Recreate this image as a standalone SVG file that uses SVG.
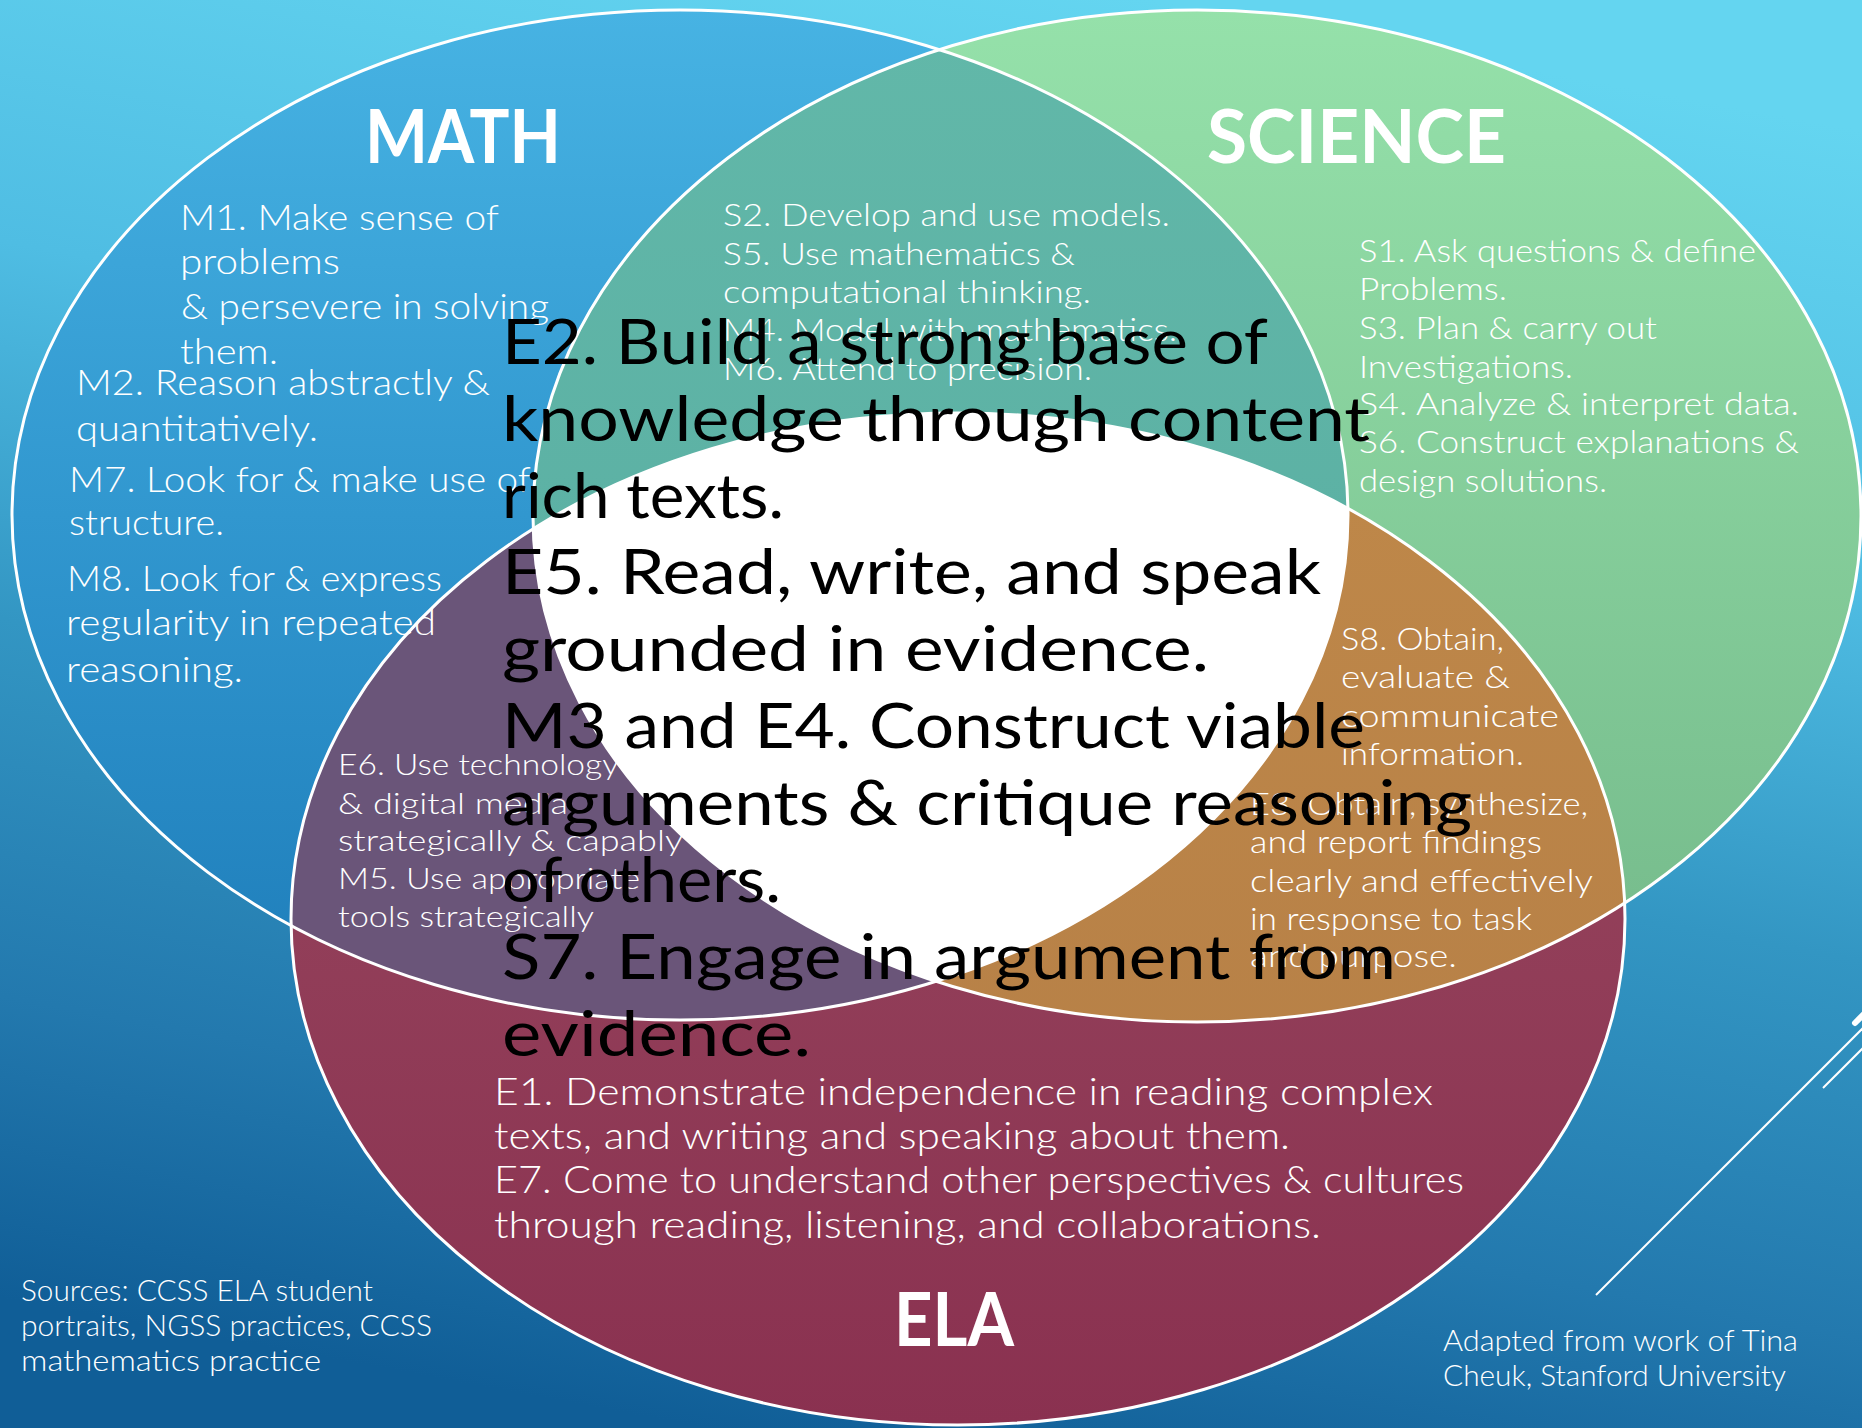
<svg xmlns="http://www.w3.org/2000/svg" width="1862" height="1428" viewBox="0 0 1862 1428">
  <defs>
    <linearGradient id="bgGrad" x1="0.62" y1="0" x2="0.38" y2="1">
      <stop offset="0" stop-color="#64d5f0"/>
      <stop offset="0.3" stop-color="#4fbde3"/>
      <stop offset="0.55" stop-color="#3396c3"/>
      <stop offset="0.8" stop-color="#2379ae"/>
      <stop offset="1" stop-color="#105e97"/>
    </linearGradient>
    <linearGradient id="mathGrad" x1="0" y1="0" x2="0" y2="1">
      <stop offset="0" stop-color="#47b3e3"/>
      <stop offset="0.5" stop-color="#3197cf"/>
      <stop offset="1" stop-color="#1e7dba"/>
    </linearGradient>
    <linearGradient id="sciGrad" x1="0" y1="0" x2="0" y2="1">
      <stop offset="0" stop-color="#95e1aa"/>
      <stop offset="1" stop-color="#74b98a"/>
    </linearGradient>
    <linearGradient id="elaGrad" x1="0" y1="0" x2="0" y2="1">
      <stop offset="0" stop-color="#9a4c62"/>
      <stop offset="1" stop-color="#8a3150"/>
    </linearGradient>
    <linearGradient id="tealGrad" x1="0" y1="0" x2="0" y2="1">
      <stop offset="0" stop-color="#62b8a9"/>
      <stop offset="1" stop-color="#57aba0"/>
    </linearGradient>
    <linearGradient id="orangeGrad" x1="0" y1="0" x2="0" y2="1">
      <stop offset="0" stop-color="#bf8849"/>
      <stop offset="1" stop-color="#b37d46"/>
    </linearGradient>
    <clipPath id="clipMath"><ellipse cx="680" cy="515" rx="668" ry="505"/></clipPath>
    <clipPath id="clipSci"><ellipse cx="1197" cy="516" rx="664" ry="506"/></clipPath>
    <style>
      .t { font-family: Lato, "Liberation Sans", "DejaVu Sans", sans-serif; font-weight: 300; fill: #ffffff; }
      .title { font-weight: 700; font-size: 75px; }
      .f36 { font-size: 36px; }
      .f37 { font-size: 37px; }
      .f31 { font-size: 31px; }
      .f30 { font-size: 30px; }
      .f28 { font-size: 28.5px; }
      .core { font-family: Lato, "Liberation Sans", "DejaVu Sans", sans-serif; font-weight: 400; font-size: 62px; fill: #000000; }
      .outline { fill: none; stroke: #ffffff; stroke-width: 3; }
      .accent { stroke: #ffffff; stroke-width: 2; }
    </style>
  </defs>

  <!-- backdrop -->
  <rect x="0" y="0" width="1862" height="1428" fill="url(#bgGrad)"/>

  <!-- set regions -->
  <g id="regions">
    <ellipse id="math-area" cx="680" cy="515" rx="668" ry="505" fill="url(#mathGrad)"/>
    <ellipse id="science-area" cx="1197" cy="516" rx="664" ry="506" fill="url(#sciGrad)"/>
    <ellipse id="ela-area" cx="958" cy="919" rx="667" ry="506" fill="url(#elaGrad)"/>
    <g clip-path="url(#clipMath)">
      <ellipse cx="1197" cy="516" rx="664" ry="506" fill="url(#tealGrad)"/>
      <ellipse cx="958" cy="919" rx="667" ry="506" fill="#6a5579"/>
    </g>
    <g clip-path="url(#clipSci)">
      <ellipse cx="958" cy="919" rx="667" ry="506" fill="url(#orangeGrad)"/>
    </g>
    <g clip-path="url(#clipMath)">
      <g clip-path="url(#clipSci)">
        <ellipse cx="958" cy="919" rx="667" ry="506" fill="#ffffff"/>
      </g>
    </g>
    <ellipse class="outline" cx="680" cy="515" rx="668" ry="505"/>
    <ellipse class="outline" cx="1197" cy="516" rx="664" ry="506"/>
    <ellipse class="outline" cx="958" cy="919" rx="667" ry="506"/>
  </g>

  <!-- MATH -->
  <g id="math">
    <text class="t title" x="365" y="163" textLength="196" lengthAdjust="spacingAndGlyphs">MATH</text>
    <g class="t f36">
      <text x="180" y="230" textLength="319" lengthAdjust="spacingAndGlyphs">M1. Make sense of</text>
      <text x="180" y="274" textLength="160" lengthAdjust="spacingAndGlyphs">problems</text>
      <text x="181" y="319" textLength="368" lengthAdjust="spacingAndGlyphs">&amp; persevere in solving</text>
      <text x="180" y="364" textLength="98" lengthAdjust="spacingAndGlyphs">them.</text>
      <text x="76" y="395" textLength="414" lengthAdjust="spacingAndGlyphs">M2. Reason abstractly &amp;</text>
      <text x="76" y="441" textLength="242" lengthAdjust="spacingAndGlyphs">quantitatively.</text>
      <text x="69" y="492" textLength="462" lengthAdjust="spacingAndGlyphs">M7. Look for &amp; make use of</text>
      <text x="69" y="535" textLength="155" lengthAdjust="spacingAndGlyphs">structure.</text>
      <text x="67" y="591" textLength="375" lengthAdjust="spacingAndGlyphs">M8. Look for &amp; express</text>
      <text x="66" y="635" textLength="370" lengthAdjust="spacingAndGlyphs">regularity in repeated</text>
      <text x="66" y="682" textLength="177" lengthAdjust="spacingAndGlyphs">reasoning.</text>
    </g>
  </g>

  <!-- SCIENCE -->
  <g id="science">
    <text class="t title" x="1207" y="163" textLength="299" lengthAdjust="spacingAndGlyphs">SCIENCE</text>
    <g class="t f31">
      <text x="1359" y="262" textLength="397" lengthAdjust="spacingAndGlyphs">S1. Ask questions &amp; define</text>
      <text x="1359" y="300" textLength="148" lengthAdjust="spacingAndGlyphs">Problems.</text>
      <text x="1359" y="339" textLength="298" lengthAdjust="spacingAndGlyphs">S3. Plan &amp; carry out</text>
      <text x="1359" y="378" textLength="214" lengthAdjust="spacingAndGlyphs">Investigations.</text>
      <text x="1359" y="415" textLength="440" lengthAdjust="spacingAndGlyphs">S4. Analyze &amp; interpret data.</text>
      <text x="1359" y="453" textLength="440" lengthAdjust="spacingAndGlyphs">S6. Construct explanations &amp;</text>
      <text x="1359" y="492" textLength="248" lengthAdjust="spacingAndGlyphs">design solutions.</text>
    </g>
  </g>

  <!-- ELA -->
  <g id="ela">
    <text class="t title" x="894" y="1346" textLength="120" lengthAdjust="spacingAndGlyphs">ELA</text>
    <g class="t f37">
      <text x="494" y="1105" textLength="939" lengthAdjust="spacingAndGlyphs">E1. Demonstrate independence in reading complex</text>
      <text x="494" y="1149" textLength="796" lengthAdjust="spacingAndGlyphs">texts, and writing and speaking about them.</text>
      <text x="494" y="1193" textLength="970" lengthAdjust="spacingAndGlyphs">E7. Come to understand other perspectives &amp; cultures</text>
      <text x="494" y="1238" textLength="827" lengthAdjust="spacingAndGlyphs">through reading, listening, and collaborations.</text>
    </g>
  </g>

  <!-- MATH and SCIENCE overlap -->
  <g id="math-science">
    <g class="t f31">
      <text x="723" y="226" textLength="447" lengthAdjust="spacingAndGlyphs">S2. Develop and use models.</text>
      <text x="723" y="265" textLength="352" lengthAdjust="spacingAndGlyphs">S5. Use mathematics &amp;</text>
      <text x="723" y="303" textLength="368" lengthAdjust="spacingAndGlyphs">computational thinking.</text>
      <text x="723" y="341" textLength="454" lengthAdjust="spacingAndGlyphs">M4. Model with mathematics.</text>
      <text x="723" y="380" textLength="369" lengthAdjust="spacingAndGlyphs">M6. Attend to precision.</text>
    </g>
  </g>

  <!-- MATH and ELA overlap -->
  <g id="math-ela">
    <g class="t f30">
      <text x="338" y="775" textLength="281" lengthAdjust="spacingAndGlyphs">E6. Use technology</text>
      <text x="338" y="814" textLength="230" lengthAdjust="spacingAndGlyphs">&amp; digital media</text>
      <text x="338" y="851" textLength="345" lengthAdjust="spacingAndGlyphs">strategically &amp; capably</text>
      <text x="338" y="889" textLength="302" lengthAdjust="spacingAndGlyphs">M5. Use appropriate</text>
      <text x="338" y="927" textLength="256" lengthAdjust="spacingAndGlyphs">tools strategically</text>
    </g>
  </g>

  <!-- SCIENCE and ELA overlap -->
  <g id="science-ela">
    <g class="t f31">
      <text x="1341" y="650" textLength="163" lengthAdjust="spacingAndGlyphs">S8. Obtain,</text>
      <text x="1341" y="688" textLength="169" lengthAdjust="spacingAndGlyphs">evaluate &amp;</text>
      <text x="1341" y="727" textLength="218" lengthAdjust="spacingAndGlyphs">communicate</text>
      <text x="1341" y="765" textLength="183" lengthAdjust="spacingAndGlyphs">information.</text>
      <text x="1250" y="815" textLength="338" lengthAdjust="spacingAndGlyphs">E3. Obtain, synthesize,</text>
      <text x="1250" y="853" textLength="292" lengthAdjust="spacingAndGlyphs">and report findings</text>
      <text x="1250" y="892" textLength="343" lengthAdjust="spacingAndGlyphs">clearly and effectively</text>
      <text x="1250" y="930" textLength="282" lengthAdjust="spacingAndGlyphs">in response to task</text>
      <text x="1250" y="967" textLength="207" lengthAdjust="spacingAndGlyphs">and purpose.</text>
    </g>
  </g>

  <!-- shared core of all three -->
  <g id="core">
    <text class="core" x="502" y="364" textLength="766" lengthAdjust="spacingAndGlyphs">E2. Build a strong base of</text>
    <text class="core" x="502" y="441" textLength="868" lengthAdjust="spacingAndGlyphs">knowledge through content</text>
    <text class="core" x="502" y="518" textLength="282" lengthAdjust="spacingAndGlyphs">rich texts.</text>
    <text class="core" x="502" y="594" textLength="819" lengthAdjust="spacingAndGlyphs">E5. Read, write, and speak</text>
    <text class="core" x="502" y="671" textLength="707" lengthAdjust="spacingAndGlyphs">grounded in evidence.</text>
    <text class="core" x="502" y="748" textLength="863" lengthAdjust="spacingAndGlyphs">M3 and E4. Construct viable</text>
    <text class="core" x="502" y="825" textLength="970" lengthAdjust="spacingAndGlyphs">arguments &amp; critique reasoning</text>
    <text class="core" x="502" y="902" textLength="279" lengthAdjust="spacingAndGlyphs">of others.</text>
    <text class="core" x="502" y="979" textLength="894" lengthAdjust="spacingAndGlyphs">S7. Engage in argument from</text>
    <text class="core" x="502" y="1056" textLength="309" lengthAdjust="spacingAndGlyphs">evidence.</text>
  </g>

  <!-- footnotes -->
  <g id="sources">
    <g class="t f28">
      <text x="21" y="1301" textLength="352" lengthAdjust="spacingAndGlyphs">Sources: CCSS ELA student</text>
      <text x="21" y="1336" textLength="411" lengthAdjust="spacingAndGlyphs">portraits, NGSS practices, CCSS</text>
      <text x="21" y="1371" textLength="300" lengthAdjust="spacingAndGlyphs">mathematics practice</text>
    </g>
  </g>
  <g id="credit">
    <g class="t f28">
      <text x="1443" y="1351" textLength="355" lengthAdjust="spacingAndGlyphs">Adapted from work of Tina</text>
      <text x="1443" y="1386" textLength="343" lengthAdjust="spacingAndGlyphs">Cheuk, Stanford University</text>
    </g>
  </g>

  <!-- corner accent strokes -->
  <g id="accent-lines">
    <line class="accent" x1="1596" y1="1295" x2="1870" y2="1021"/>
    <line class="accent" x1="1823" y1="1088" x2="1870" y2="1041"/>
    <line x1="1855" y1="1023" x2="1868" y2="1010" stroke="#ffffff" stroke-width="6" stroke-linecap="round"/>
  </g>
</svg>
